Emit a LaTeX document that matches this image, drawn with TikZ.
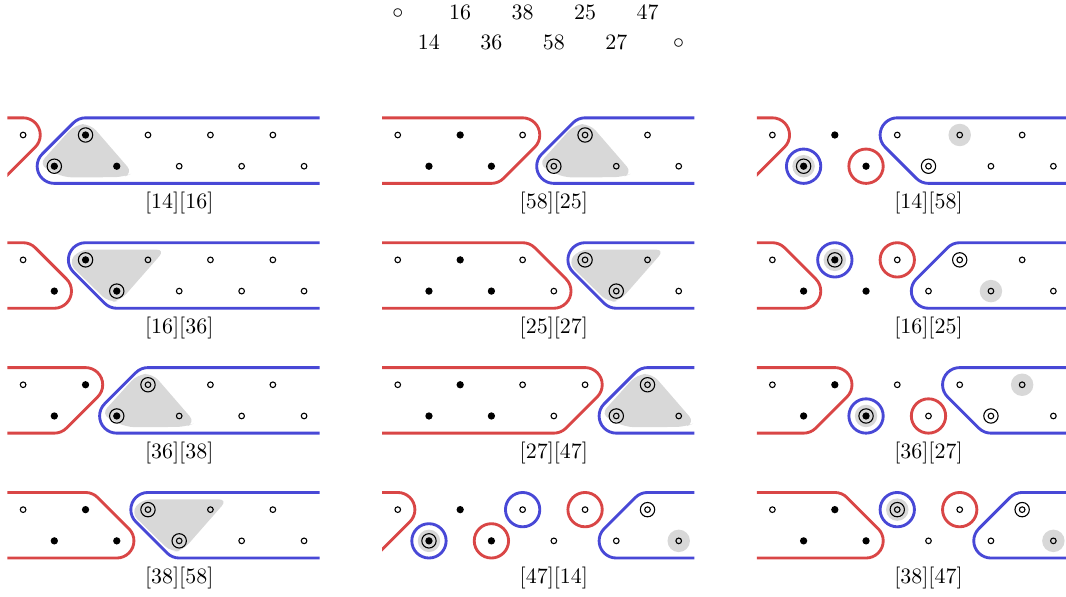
\documentclass[tikz,border=0pt]{standalone}
\usetikzlibrary{calc}
\definecolor{bandred}{RGB}{217,70,70}
\definecolor{bandblue}{RGB}{72,72,214}
\definecolor{hullgray}{RGB}{216,216,216}

\tikzset{
  band/.style={line width=1.3pt, line cap=butt, line join=round},
  redband/.style={band, draw=bandred},
  blueband/.style={band, draw=bandblue},
  ptline/.style={line width=0.5pt},
  tag/.style={inner sep=1pt}
}

% point marks: open, filled, ringed filled, ringed open, and grey-backed versions
\newcommand\ptmarko[1]{\draw[ptline] (#1) circle (0.09);}
\newcommand\ptmarkf[1]{\fill (#1) circle (0.117);}
\newcommand\ptmarkF[1]{\fill (#1) circle (0.117); \draw[ptline] (#1) circle (0.23);}
\newcommand\ptmarkO[1]{\draw[ptline] (#1) circle (0.09) (#1) circle (0.23);}
\newcommand\ptmarkog[1]{\fill[hullgray] (#1) circle (0.36); \ptmarko{#1}}
\newcommand\ptmarkFg[1]{\fill[hullgray] (#1) circle (0.36); \ptmarkF{#1}}
\newcommand\ptmarkOg[1]{\fill[hullgray] (#1) circle (0.36); \ptmarkO{#1}}

% left (red) group whose last point #1 lies in the top row
\newcommand\redtop[1]{%
  \draw[redband] (-1,0.55) -- (#1,0.55) arc[start angle=90,end angle=-45,radius=0.55]
    -- ({#1-1+0.3889},{-1-0.3889}) arc[start angle=-45,end angle=-90,radius=0.55] -- (-1,-1.55);}
% left (red) group whose last point #1 lies in the bottom row
\newcommand\redbot[1]{%
  \draw[redband] (-1,0.55) -- ({#1-1},0.55) arc[start angle=90,end angle=45,radius=0.55]
    -- ({#1+0.3889},{-1+0.3889}) arc[start angle=45,end angle=-90,radius=0.55] -- (-1,-1.55);}
% right (blue) group whose first point #1 lies in the top row
\newcommand\bluetop[1]{%
  \draw[blueband] (10,0.55) -- (#1,0.55) arc[start angle=90,end angle=225,radius=0.55]
    -- ({#1+1-0.3889},{-1-0.3889}) arc[start angle=225,end angle=270,radius=0.55] -- (10,-1.55);}
% right (blue) group whose first point #1 lies in the bottom row
\newcommand\bluebot[1]{%
  \draw[blueband] (10,0.55) -- ({#1+1},0.55) arc[start angle=90,end angle=135,radius=0.55]
    -- ({#1-0.3889},{-1+0.3889}) arc[start angle=135,end angle=270,radius=0.55] -- (10,-1.55);}

% shaded triangle over points #1 (bottom), #1+1 (top), #1+2 (bottom)
\newcommand\hullV[1]{%
  \fill[hullgray, rounded corners=4pt] ({#1-0.5},-0.95) -- ({#1+0.66},0.33) -- ({#1+1.15},0.36)
    -- ({#1+2.52},-1.22) -- ({#1+2.2},-1.35) -- ({#1+0.3},-1.36) -- cycle;}
% shaded triangle over points #1 (top), #1+1 (bottom), #1+2 (top)
\newcommand\hullA[1]{%
  \fill[hullgray, rounded corners=4pt] ({#1-0.2},0.33) -- ({#1+2.55},0.33) -- ({#1+1.12},-1.3)
    -- ({#1+0.75},-1.37) -- ({#1-0.55},-0.1) -- cycle;}

% single rings round one point
\newcommand\ringtop[2]{\draw[band, draw=#1] (#2,0) circle (0.55);}
\newcommand\ringbot[2]{\draw[band, draw=#1] (#2,-1) circle (0.55);}

% one panel: column, row, point marks, caption, clipped background
\newcommand\drawpanel[5]{%
  \begin{scope}[shift={(12*#1,-4*#2)}]
    \begin{scope}
      \clip (-0.5,1) rectangle (9.5,-2);
      #5
    \end{scope}
    \foreach \mk [count=\j from 0] in {#3} {%
      \pgfmathsetmacro\yy{-mod(\j,2)}%
      \csname ptmark\mk\endcsname{\j,\yy}%
    }
    \node[tag] (cap-#1-#2) at (5,-2.19) {#4};
  \end{scope}}

\begin{document}
\begin{tikzpicture}[x=0.5cm,y=0.5cm]
\useasboundingbox (-0.740,4.324) rectangle (33.405,-14.798);

% sequence of the elements
\node[tag] (s0) at (12,3.88) {$\circ$};
\node[tag] (s1) at (13,2.98) {14};
\node[tag] (s2) at (14,3.94) {16};
\node[tag] (s3) at (15,2.98) {36};
\node[tag] (s4) at (16,3.94) {38};
\node[tag] (s5) at (17,2.98) {58};
\node[tag] (s6) at (18,3.94) {25};
\node[tag] (s7) at (19,2.98) {27};
\node[tag] (s8) at (20,3.94) {47};
\node[tag] (s9) at (21,2.92) {$\circ$};

\drawpanel{0}{0}{o,F,F,f,o,o,o,o,o,o}{[14][16]}{\hullV{1}\redtop{0}\bluebot{1}}
\drawpanel{1}{0}{o,f,f,f,o,O,O,o,o,o}{[58][25]}{\hullV{5}\redtop{4}\bluebot{5}}
\drawpanel{2}{0}{o,Fg,f,f,o,O,og,o,o,o}{[14][58]}{\redtop{0}\bluetop{4}\ringbot{bandblue}{1}\ringbot{bandred}{3}}

\drawpanel{0}{1}{o,f,F,F,o,o,o,o,o,o}{[16][36]}{\hullA{2}\redbot{1}\bluetop{2}}
\drawpanel{1}{1}{o,f,f,f,o,o,O,O,o,o}{[25][27]}{\hullA{6}\redbot{5}\bluetop{6}}
\drawpanel{2}{1}{o,f,Fg,f,o,o,O,og,o,o}{[16][25]}{\redbot{1}\bluebot{5}\ringtop{bandblue}{2}\ringtop{bandred}{4}}

\drawpanel{0}{2}{o,f,f,F,O,o,o,o,o,o}{[36][38]}{\hullV{3}\redtop{2}\bluebot{3}}
\drawpanel{1}{2}{o,f,f,f,o,o,o,O,O,o}{[27][47]}{\hullV{7}\redtop{6}\bluebot{7}}
\drawpanel{2}{2}{o,f,f,Fg,o,o,o,O,og,o}{[36][27]}{\redtop{2}\bluetop{6}\ringbot{bandblue}{3}\ringbot{bandred}{5}}

\drawpanel{0}{3}{o,f,f,f,O,O,o,o,o,o}{[38][58]}{\hullA{4}\redbot{3}\bluetop{4}}
\drawpanel{1}{3}{o,Fg,f,f,o,o,o,o,O,og}{[47][14]}{\redtop{0}\bluebot{7}\ringbot{bandblue}{1}\ringbot{bandred}{3}\ringtop{bandblue}{4}\ringtop{bandred}{6}}
\drawpanel{2}{3}{o,f,f,f,Og,o,o,o,O,og}{[38][47]}{\redbot{3}\bluebot{7}\ringtop{bandblue}{4}\ringtop{bandred}{6}}
\end{tikzpicture}
\end{document}
